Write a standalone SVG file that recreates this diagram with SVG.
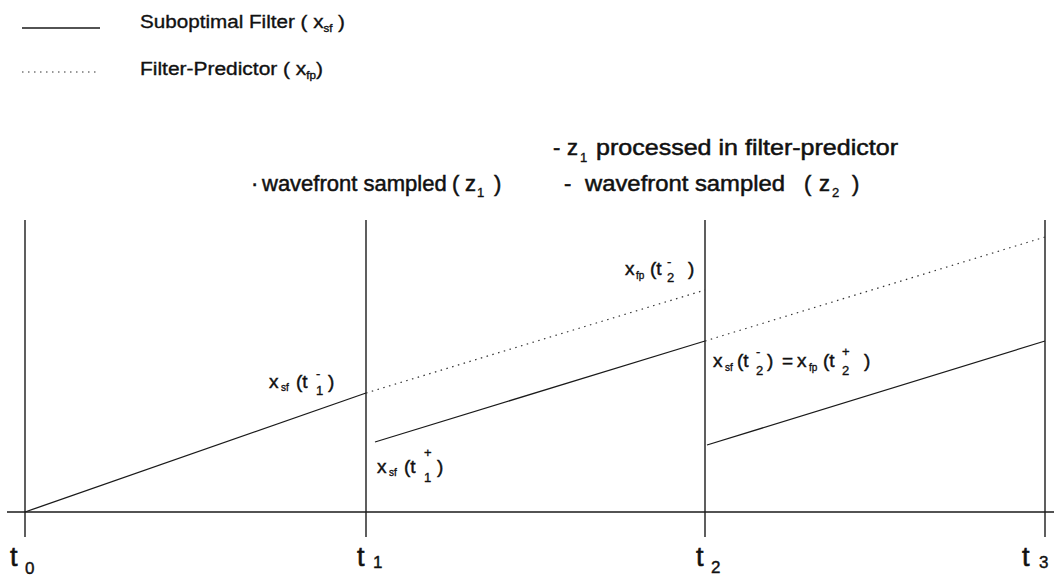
<svg xmlns="http://www.w3.org/2000/svg" width="1054" height="578" viewBox="0 0 1054 578">
<style>
text{font-family:"Liberation Sans",Arial,sans-serif;fill:#111;stroke:#111;stroke-width:0.35}
.lg{font-size:18px}
.hd{font-size:22px;stroke-width:0.5}
.lb{font-size:19px;stroke-width:0.45}
.sm{font-size:10px}
.sb{font-size:13px}
.ax{font-size:27px;stroke-width:0.6}
.axs{font-size:17px;stroke-width:0.4}
.solid{stroke:#1a1a1a;stroke-width:1.3;fill:none}
.dot{stroke:#333;stroke-width:1.2;fill:none;stroke-dasharray:1.5 4.5}
.grid{stroke:#1a1a1a;stroke-width:1.4;fill:none}
</style>
<rect width="1054" height="578" fill="#fff"/>
<g id="legend">
<line class="solid" x1="22" y1="28" x2="100" y2="28"/>
<text class="lg" x="140" y="28" textLength="205" lengthAdjust="spacingAndGlyphs">Suboptimal Filter  ( x<tspan class="sm" dy="4">sf</tspan><tspan dy="-4"> )</tspan></text>
<line class="dot" x1="22" y1="72" x2="100" y2="72"/>
<text class="lg" x="140" y="75" textLength="183" lengthAdjust="spacingAndGlyphs">Filter-Predictor  ( x<tspan class="sm" dy="4">fp</tspan><tspan dy="-4">)</tspan></text>
</g>
<g id="events">
<g id="ev-processed">
<text class="hd" x="553" y="155">-</text>
<text class="hd" x="567" y="155">z</text><text class="sb" x="580" y="162">1</text>
<text class="hd" x="596" y="155" textLength="302" lengthAdjust="spacingAndGlyphs">processed in filter-predictor</text>
</g>
<g id="ev-z1">
<text class="hd" x="251" y="191">·</text>
<text class="hd" x="262" y="191">wavefront sampled</text>
<text class="hd" x="452" y="191">(</text><text class="hd" x="465" y="191">z</text><text class="sb" x="477" y="197">1</text>
<text class="hd" x="494" y="191">)</text>
</g>
<g id="ev-z2">
<text class="hd" x="564" y="191">-</text>
<text class="hd" x="585" y="191" textLength="200" lengthAdjust="spacingAndGlyphs">wavefront sampled</text>
<text class="hd" x="804" y="191">(</text><text class="hd" x="819" y="191">z</text><text class="sb" x="832" y="197">2</text>
<text class="hd" x="852" y="191">)</text>
</g>
</g>
<g id="axes">
<line class="grid" x1="7" y1="512" x2="1054" y2="512"/>
<line class="grid" x1="25" y1="220" x2="25" y2="537"/>
<line class="grid" x1="366" y1="220" x2="366" y2="537"/>
<line class="grid" x1="705" y1="220" x2="705" y2="537"/>
<line class="grid" x1="1045" y1="220" x2="1045" y2="537"/>
<text class="ax" x="10" y="566">t</text><text class="axs" x="25" y="574">0</text>
<text class="ax" x="357" y="566">t</text><text class="axs" x="373" y="568">1</text>
<text class="ax" x="696" y="566">t</text><text class="axs" x="711" y="573">2</text>
<text class="ax" x="1022" y="566">t</text><text class="axs" x="1039" y="568">3</text>
</g>
<g id="connectors">
<line class="solid" x1="25" y1="512" x2="366" y2="393"/>
<line class="dot" x1="366" y1="393" x2="705" y2="290"/>
<line class="solid" x1="375" y1="442" x2="705" y2="341"/>
<line class="dot" x1="705" y1="341" x2="1045" y2="237"/>
<line class="solid" x1="707" y1="445" x2="1045" y2="341"/>
</g>
<g id="labels">
<g id="xsf-t1m">
<text class="lb" x="269" y="388">x</text><text class="sm" x="281" y="391">sf</text>
<text class="lb" x="296" y="388">(t</text><text class="sb" x="316" y="378">-</text><text class="sb" x="316" y="395">1</text>
<text class="lb" x="328" y="388">)</text>
</g>
<g id="xsf-t1p">
<text class="lb" x="377" y="473">x</text><text class="sm" x="389" y="476">sf</text>
<text class="lb" x="404" y="473">(t</text><text class="sb" x="424" y="457">+</text><text class="sb" x="424" y="482">1</text>
<text class="lb" x="437" y="473">)</text>
</g>
<g id="xfp-t2m">
<text class="lb" x="625" y="275">x</text><text class="sm" x="636" y="279">fp</text>
<text class="lb" x="650" y="275">(t</text><text class="sb" x="667" y="266">-</text><text class="sb" x="667" y="282">2</text>
<text class="lb" x="688" y="275">)</text>
</g>
<g id="xsf-t2-eq">
<text class="lb" x="713" y="367">x</text><text class="sm" x="725" y="371">sf</text>
<text class="lb" x="737" y="367">(t</text><text class="sb" x="756" y="356">-</text><text class="sb" x="756" y="375">2</text>
<text class="lb" x="767" y="367">)</text>
<text class="lb" x="782" y="367">=</text>
<text class="lb" x="797" y="367">x</text><text class="sm" x="809" y="371">fp</text>
<text class="lb" x="823" y="367">(t</text><text class="sb" x="842" y="356">+</text><text class="sb" x="842" y="375">2</text>
<text class="lb" x="864" y="367">)</text>
</g>
</g>
</svg>
